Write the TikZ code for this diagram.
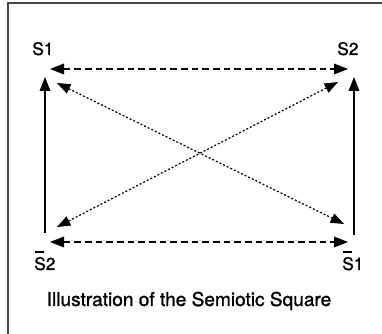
\documentclass[tikz,border=0pt]{standalone}
\usepackage{fontspec}
\setmainfont{TeX Gyre Heros}
\newfontfamily\labelfont{TeX Gyre Heros}[FakeBold=1.3]
\usetikzlibrary{arrows.meta}
\definecolor{framegray}{RGB}{70,70,70}
\newcommand{\negterm}[1]{\makebox[0pt][l]{\hspace{0.05em}\rule[1.0em]{0.5em}{0.11em}}#1}

\begin{document}
\begin{tikzpicture}[
  x=0.75pt, y=-0.75pt,
  term/.style={font=\labelfont\fontsize{13}{15}\selectfont, inner sep=0pt, anchor=base west},
  capt/.style={font=\labelfont\fontsize{14.3}{17}\selectfont, inner sep=0pt, anchor=base west},
  arr/.style={-{Triangle[length=10.5pt, width=8pt]}, line width=0.9pt},
  darr/.style={{Triangle[length=10.5pt, width=8pt]}-{Triangle[length=10.5pt, width=8pt]},
               line width=0.9pt, dash pattern=on 5pt off 3pt},
  tarr/.style={{Triangle[length=10pt, width=7.5pt]}-{Triangle[length=10pt, width=7.5pt]},
               line width=0.9pt, dash pattern=on 1.5pt off 1.5pt},
]
\useasboundingbox (0,0) rectangle (382,334);

% ── Frame ────────────────────────────────────────────────
\draw[framegray, line width=1.2pt] (8,334) -- (8,3) -- (382,3);

% ── Terms ────────────────────────────────────────────────
\node[term] (s1) at (32,55) {S1};
\node[term] (s2) at (337,55) {S2};
\node[term] (nots2) at (34,270) {\negterm{S}2};
\node[term] (nots1) at (342,270) {\negterm{S}1};

\node[capt] (caption) at (46.5,306) {Illustration of the Semiotic Square};

% ── Arrow ends ───────────────────────────────────────────
\coordinate (s1h) at (50,69);
\coordinate (s2h) at (348,69);
\coordinate (nots2h) at (50,242);
\coordinate (nots1h) at (348,242);

\coordinate (s1v) at (45,77);
\coordinate (nots2v) at (45,233);
\coordinate (s2v) at (354,77);
\coordinate (nots1v) at (354,235);

\coordinate (s1d) at (57,83);
\coordinate (nots1d) at (344,224);
\coordinate (s2d) at (338,82);
\coordinate (nots2d) at (57,227);

% ── Relations ────────────────────────────────────────────
\draw[darr] (s1h) -- (s2h);
\draw[darr] (nots2h) -- (nots1h);
\draw[arr] (nots2v) -- (s1v);
\draw[arr] (nots1v) -- (s2v);
\draw[tarr] (s1d) -- (nots1d);
\draw[tarr] (nots2d) -- (s2d);

\end{tikzpicture}
\end{document}
